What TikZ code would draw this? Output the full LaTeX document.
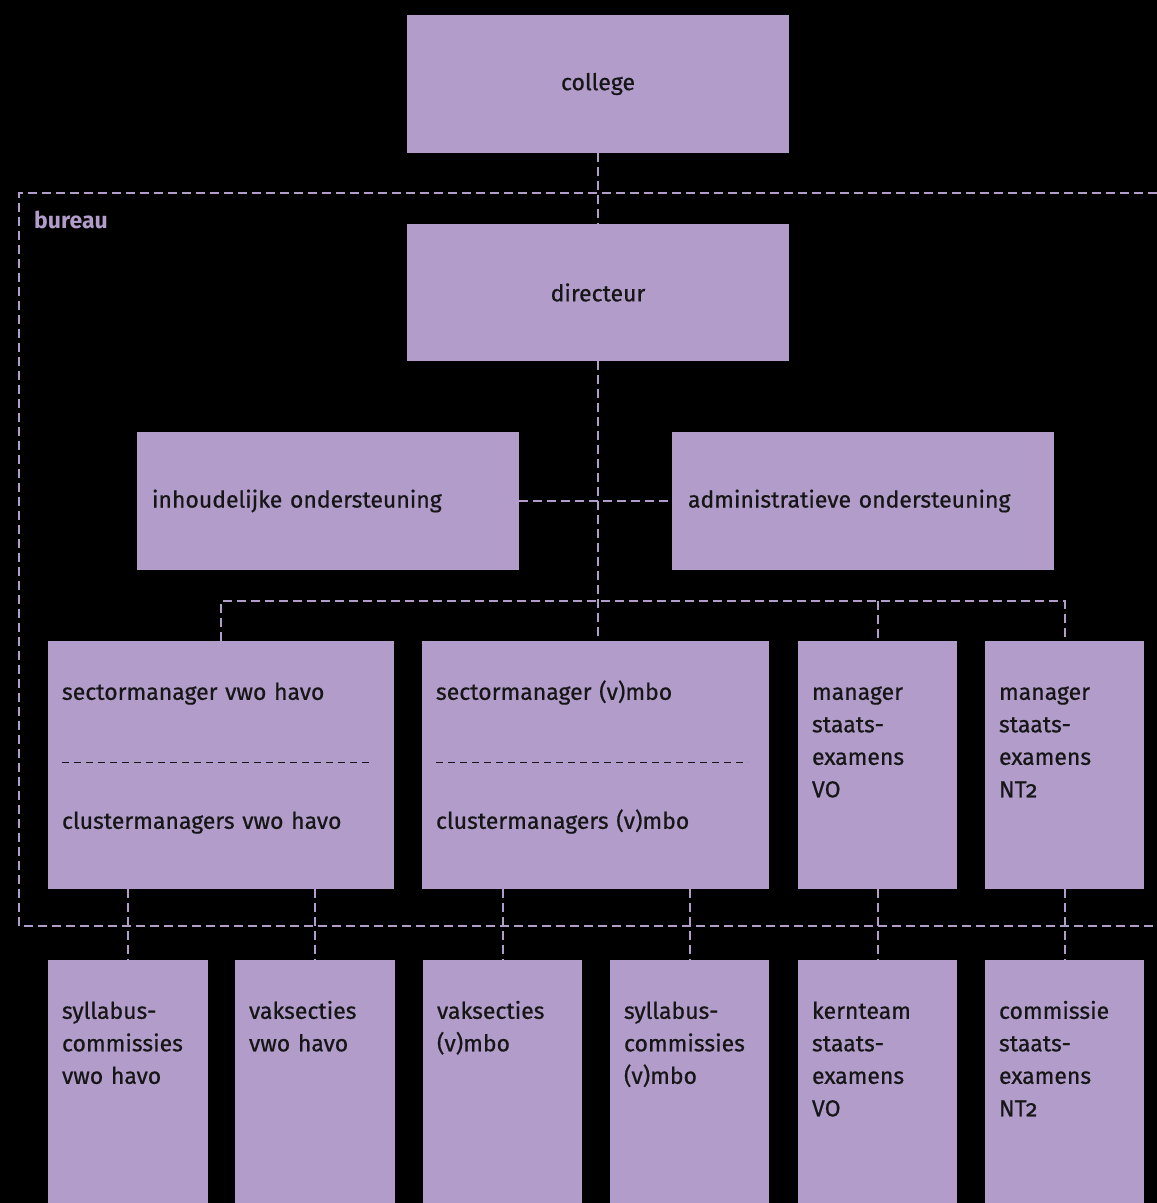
\documentclass[tikz,border=0pt]{standalone}
\usepackage{fontspec}
\setmainfont{Fira Sans}[Numbers=OldStyle, UprightFeatures={FakeBold=0.6}]
\usepackage{tikz}
\definecolor{lila}{HTML}{B19CCA}
\definecolor{inkt}{HTML}{161616}
\tikzset{
  box/.style={fill=lila, draw=none, inner sep=0pt, text=inkt, font=\fontsize{23}{32.5}\selectfont},
  txt/.style={text=inkt, inner sep=0pt, font=\fontsize{23}{32.5}\selectfont, align=left, text width=140pt, anchor=base west},
  link/.style={draw=lila, line width=2pt, dash pattern=on 9pt off 5pt},
  sepline/.style={draw=inkt, line width=1pt, dash pattern=on 7pt off 5pt},
}

\begin{document}
\begin{tikzpicture}[x=1pt, y=-1pt]
    \fill[black] (0,0) rectangle (1157,1203);
    \useasboundingbox (0,0) rectangle (1157,1203);

    % top
    \node[box, minimum width=382, minimum height=138] (college) at (598,84) {college};
    \node[box, minimum width=382, minimum height=137] (dir) at (598,292.5) {directeur};

    % support
    \node[box, minimum width=382, minimum height=138, inner xsep=15pt, text width=352pt, align=left] (inh) at (328,501) {inhoudelijke ondersteuning};
    \node[box, minimum width=382, minimum height=138, inner xsep=16pt, text width=350pt, align=left] (adm) at (863,501) {administratieve ondersteuning};

    % managers
    \node[box, minimum width=346, minimum height=248] (svh) at (221,765) {};
    \node[box, minimum width=347, minimum height=248] (svm) at (595.5,765) {};
    \node[box, minimum width=159, minimum height=248] (mvo) at (877.5,765) {};
    \node[box, minimum width=159, minimum height=248] (mnt) at (1064.5,765) {};

    \node[txt, text width=320pt] (svh-top) at ([shift={(14,59)}]svh.north west) {sectormanager vwo havo};
    \node[txt, text width=320pt] (svh-bot) at ([shift={(14,188)}]svh.north west) {clustermanagers vwo havo};
    \node[txt, text width=320pt] (svm-top) at ([shift={(14,59)}]svm.north west) {sectormanager (v)mbo};
    \node[txt, text width=320pt] (svm-bot) at ([shift={(14,188)}]svm.north west) {clustermanagers (v)mbo};
    \draw[sepline] (svh.north west) ++(14,122) -- ++(311,0);
    \draw[sepline] (svm.north west) ++(14,122) -- ++(312,0);
    \node[txt] (mvo-t) at ([shift={(14,59)}]mvo.north west) {manager\\staats-\\examens\\VO};
    \node[txt] (mnt-t) at ([shift={(14,59)}]mnt.north west) {manager\\staats-\\examens\\NT2};

    % bottom row
    \node[box, minimum width=160, minimum height=243] (b1) at (128,1081.5) {};
    \node[box, minimum width=160, minimum height=243] (b2) at (315,1081.5) {};
    \node[box, minimum width=159, minimum height=243] (b3) at (502.5,1081.5) {};
    \node[box, minimum width=159, minimum height=243] (b4) at (689.5,1081.5) {};
    \node[box, minimum width=159, minimum height=243] (b5) at (877.5,1081.5) {};
    \node[box, minimum width=159, minimum height=243] (b6) at (1064.5,1081.5) {};

    \node[txt] (b1-t) at ([shift={(14,59)}]b1.north west) {syllabus-\\commissies\\vwo havo};
    \node[txt] (b2-t) at ([shift={(14,59)}]b2.north west) {vaksecties\\vwo havo};
    \node[txt] (b3-t) at ([shift={(14,59)}]b3.north west) {vaksecties\\(v)mbo};
    \node[txt] (b4-t) at ([shift={(14,59)}]b4.north west) {syllabus-\\commissies\\(v)mbo};
    \node[txt] (b5-t) at ([shift={(14,59)}]b5.north west) {kernteam\\staats-\\examens\\VO};
    \node[txt] (b6-t) at ([shift={(14,59)}]b6.north west) {commissie\\staats-\\examens\\NT2};

    % bureau frame
    \coordinate (bur-ne) at (1157,193);
    \coordinate (bur-nw) at (19,193);
    \coordinate (bur-sw) at (19,926);
    \coordinate (bur-se) at (1157,926);
    \draw[link] (bur-ne) -- (bur-nw) -- (bur-sw) -- (bur-se);
    \node[text=lila, inner sep=0pt, anchor=base west, font=\fontsize{23}{26}\selectfont\bfseries] (bureau) at (34,228) {bureau};

    % connectors
    \draw[link] (college.south) -- (dir.north);
    \draw[link] (dir.south) -- (dir.south |- svm.north);
    \draw[link] (inh.east) -- (adm.west);
    \coordinate (split) at (597,601);
    \draw[link] (svh.north) |- (split) -| (mnt.north);
    \draw[link] (mvo.north |- split) -- (mvo.north);
    \foreach \up/\down in {svh/b1, svh/b2, svm/b3, svm/b4, mvo/b5, mnt/b6}
        \draw[link] (\down.north |- \up.south) -- (\down.north);
\end{tikzpicture}
\end{document}
